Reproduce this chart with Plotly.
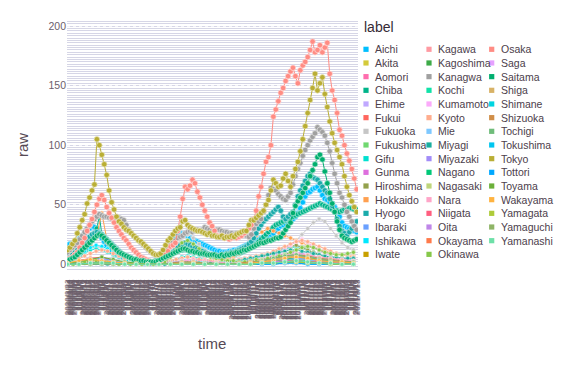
import pandas as pd
import plotly.graph_objects as go

# ---------------- data ----------------
dates = pd.date_range("2020-03-23", "2021-03-13", freq="D")
time_labels = [f"{d.year}/{d.month}/{d.day}" for d in dates]

prefectures = ["Aichi", "Akita", "Aomori", "Chiba", "Ehime", "Fukui", "Fukuoka", "Fukushima",
               "Gifu", "Gunma", "Hiroshima", "Hokkaido", "Hyogo", "Ibaraki", "Ishikawa", "Iwate",
               "Kagawa", "Kagoshima", "Kanagwa", "Kochi", "Kumamoto", "Kyoto", "Mie", "Miyagi",
               "Miyazaki", "Nagano", "Nagasaki", "Nara", "Niigata", "Oita", "Okayama", "Okinawa",
               "Osaka", "Saga", "Saitama", "Shiga", "Shimane", "Shizuoka", "Tochigi", "Tokushima",
               "Tokyo", "Tottori", "Toyama", "Wakayama", "Yamagata", "Yamaguchi", "Yamanashi"]

colors = ["#00BFFF", "#D4CA3A", "#FF6DAE", "#00B48A", "#C0A8FF", "#FF665E", "#C6C6C6", "#70D870",
          "#00E0D0", "#DE6FDE", "#93A14C", "#FFA050", "#1AABAB", "#6AA0FF", "#00E8FF", "#C8A000",
          "#FF9AA2", "#3DAA47", "#A0A0A0", "#10E2A8", "#FBAAFA", "#FFAD8E", "#7EC8FF", "#1AAE9E",
          "#A28CF8", "#00C878", "#BED57B", "#FFA5C8", "#FF5E7F", "#BF86E8", "#FF7A4B", "#86C84A",
          "#FF8C84", "#E6A0FF", "#00AE6F", "#D8B266", "#00D4E0", "#D08E48", "#6FBC7A", "#00C6F0",
          "#B9AE35", "#00A8FF", "#6BB03A", "#FFB340", "#AECB3A", "#8EB466", "#6EE0A8"]

# values every 3 days (day 0, 3, 6, ...)
tokyo = [12, 14, 17, 20, 26, 31, 37, 42, 51, 56,
         62, 67, 105, 100, 92, 84, 75, 62, 52, 46,
         40, 36, 34, 31, 29, 28, 26, 24, 22, 20,
         19, 17, 15, 13, 11, 9, 8, 8, 9, 12,
         16, 20, 22, 25, 28, 30, 31, 36, 37, 33,
         31, 30, 29, 28, 28, 27, 26, 25, 26, 24,
         24, 23, 23, 24, 22, 23, 23, 24, 23, 25,
         26, 27, 28, 28, 33, 37, 37, 39, 41, 43,
         45, 50, 54, 62, 71, 68, 65, 66, 72, 76,
         70, 65, 74, 80, 86, 95, 105, 116, 127, 138,
         148, 160, 146, 152, 157, 143, 132, 120, 110, 102,
         96, 90, 84, 74, 65, 58, 53, 48, 44]
osaka = [4, 5, 6, 8, 10, 14, 18, 22, 28, 33,
         38, 44, 50, 55, 58, 54, 48, 43, 39, 35,
         31, 28, 25, 22, 20, 17, 14, 12, 10, 8,
         6, 5, 4, 3, 2, 2, 2, 2, 3, 5,
         8, 11, 15, 16, 18, 28, 40, 55, 65, 63,
         66, 71, 68, 61, 56, 50, 45, 40, 35, 32,
         28, 24, 23, 24, 22, 23, 21, 22, 23, 22,
         23, 24, 26, 28, 30, 33, 38, 45, 57, 65,
         76, 86, 90, 100, 124, 130, 137, 144, 148, 154,
         158, 162, 165, 158, 152, 163, 167, 170, 174, 180,
         187, 178, 180, 184, 178, 182, 186, 160, 146, 138,
         127, 113, 108, 100, 93, 87, 80, 72, 63]
kanagawa = [10, 12, 14, 16, 18, 21, 24, 27, 30, 33,
            36, 38, 40, 42, 41, 40, 40, 39, 38, 38,
            40, 39, 38, 37, 33, 29, 26, 24, 22, 20,
            18, 16, 14, 12, 10, 9, 8, 8, 9, 10,
            12, 14, 16, 18, 20, 22, 23, 24, 26, 27,
            28, 27, 28, 29, 28, 29, 31, 30, 29, 28,
            29, 29, 29, 28, 27, 27, 26, 26, 25, 26,
            24, 25, 26, 24, 23, 25, 30, 34, 36, 38,
            44, 50, 58, 64, 63, 62, 59, 57, 55, 54,
            57, 60, 67, 74, 80, 85, 91, 96, 100, 104,
            107, 110, 115, 113, 111, 108, 102, 95, 85, 76,
            68, 60, 56, 50, 44, 40, 36, 32, 29]
saitama = [3, 4, 5, 6, 8, 10, 12, 14, 16, 18,
           20, 22, 24, 25, 24, 22, 20, 18, 16, 14,
           12, 10, 9, 8, 7, 6, 5, 4, 4, 3,
           3, 3, 2, 2, 2, 2, 2, 3, 4, 5,
           6, 7, 8, 9, 10, 11, 12, 13, 13, 12,
           11, 11, 10, 10, 9, 9, 9, 8, 8, 8,
           8, 7, 7, 8, 7, 8, 8, 9, 9, 10,
           10, 11, 12, 12, 13, 14, 15, 16, 17, 18,
           18, 19, 20, 20, 21, 22, 22, 23, 26, 29,
           32, 35, 43, 49, 53, 56, 60, 64, 68, 74,
           79, 84, 90, 92, 88, 78, 68, 60, 51, 44,
           36, 29, 24, 22, 21, 20, 19, 20, 21]
hyogo = [5, 6, 8, 10, 12, 14, 17, 19, 21, 23,
         25, 26, 27, 26, 25, 23, 21, 19, 17, 15,
         13, 11, 9, 8, 7, 6, 5, 4, 3, 3,
         2, 2, 2, 1, 1, 1, 1, 2, 3, 4,
         5, 6, 8, 10, 12, 14, 16, 17, 18, 17,
         16, 15, 14, 13, 12, 11, 10, 9, 8, 8,
         7, 7, 7, 8, 8, 9, 9, 10, 10, 11,
         12, 13, 14, 15, 17, 19, 22, 26, 30, 33,
         36, 38, 40, 42, 44, 46, 48, 45, 40, 38,
         40, 42, 44, 50, 57, 62, 66, 70, 74, 76,
         73, 72, 71, 68, 65, 62, 60, 55, 49, 44,
         38, 32, 28, 26, 24, 27, 30, 33, 36]
aichi = [16, 17, 17, 18, 20, 22, 24, 26, 28, 30,
         32, 31, 28, 25, 22, 19, 16, 14, 12, 10,
         8, 7, 6, 5, 4, 4, 3, 3, 2, 2,
         2, 1, 1, 1, 1, 2, 2, 3, 5, 8,
         11, 14, 17, 20, 22, 24, 26, 25, 26, 24,
         22, 21, 20, 19, 18, 17, 16, 15, 14, 13,
         12, 11, 11, 10, 10, 10, 11, 11, 12, 12,
         13, 14, 15, 16, 17, 18, 19, 20, 21, 22,
         22, 23, 24, 25, 26, 28, 30, 32, 33, 34,
         35, 36, 38, 40, 43, 47, 52, 57, 60, 61,
         63, 64, 65, 62, 58, 55, 54, 52, 51, 48,
         44, 40, 35, 32, 31, 30, 29, 28, 27]
chiba = [2, 3, 4, 5, 6, 8, 10, 12, 14, 17,
         20, 24, 30, 41, 25, 22, 19, 17, 15, 13,
         11, 10, 9, 8, 7, 6, 5, 4, 4, 3,
         3, 2, 2, 2, 2, 2, 3, 3, 4, 5,
         6, 7, 8, 9, 10, 11, 12, 12, 13, 12,
         11, 11, 10, 10, 9, 9, 8, 8, 8, 7,
         7, 7, 6, 6, 7, 7, 7, 8, 8, 9,
         9, 10, 11, 12, 13, 14, 15, 17, 19, 21,
         23, 25, 27, 29, 31, 33, 34, 35, 36, 37,
         38, 39, 40, 41, 42, 43, 44, 45, 46, 47,
         48, 49, 50, 51, 50, 49, 48, 47, 46, 45,
         45, 44, 45, 46, 46, 47, 47, 46, 46]

# values every 7 days
hokkaido = [5, 7, 9, 12, 16, 22, 43, 18, 12, 9, 7, 5, 4, 3, 2, 2, 2, 3, 3, 4, 4, 3, 3, 3, 3, 3,
            4, 4, 5, 6, 9, 14, 20, 24, 27, 30, 28, 26, 24, 22, 20, 18, 16, 14, 12, 11, 10, 9, 8, 7, 7]
fukuoka = [2, 4, 7, 10, 13, 15, 14, 11, 8, 5, 3, 2, 1, 1, 1, 1, 2, 5, 10, 16, 22, 25, 22, 17, 12, 9,
           7, 5, 4, 4, 4, 5, 6, 7, 8, 9, 10, 12, 14, 17, 20, 25, 30, 35, 38, 36, 30, 24, 18, 14, 12]
kyoto = [2, 3, 5, 7, 9, 11, 12, 11, 9, 7, 5, 4, 3, 2, 1, 1, 1, 2, 3, 4, 5, 6, 5, 4, 4, 3,
         3, 3, 3, 4, 4, 5, 6, 7, 8, 9, 11, 13, 15, 17, 19, 20, 19, 17, 15, 13, 11, 9, 8, 7, 6]
okinawa = [0, 0, 1, 2, 3, 3, 2, 1, 1, 0, 0, 0, 0, 0, 0, 0, 0, 2, 6, 12, 18, 20, 17, 13, 9, 6,
           5, 4, 3, 3, 2, 2, 3, 4, 4, 5, 6, 7, 8, 10, 12, 14, 15, 14, 12, 10, 9, 8, 8, 9, 10]
kumamoto = [0, 0, 1, 1, 1, 1, 0, 0, 0, 0, 0, 0, 0, 0, 0, 0, 0, 1, 2, 3, 4, 3, 2, 2, 1, 1,
            1, 1, 1, 1, 2, 2, 3, 4, 5, 6, 8, 10, 13, 16, 19, 21, 18, 15, 12, 9, 7, 5, 4, 3, 3]
ishikawa = [3, 5, 8, 11, 14, 16, 15, 13, 10, 8, 6, 4, 3, 2, 1, 1, 1, 1, 2, 3, 4, 4, 3, 3, 2, 2,
            2, 1, 1, 1, 1, 1, 2, 2, 3, 3, 4, 4, 5, 6, 6, 7, 6, 5, 4, 3, 3, 2, 2, 2, 2]
gifu = [2, 4, 7, 10, 12, 13, 12, 10, 8, 6, 4, 3, 2, 1, 1, 0, 0, 1, 2, 4, 6, 7, 6, 5, 4, 3,
        2, 2, 2, 2, 2, 3, 4, 5, 6, 7, 9, 11, 13, 14, 15, 14, 12, 10, 8, 7, 6, 5, 4, 4, 3]
hiroshima = [0, 1, 1, 2, 3, 3, 2, 2, 1, 1, 0, 0, 0, 0, 0, 0, 0, 0, 1, 2, 3, 3, 2, 2, 1, 1,
             1, 1, 1, 1, 1, 2, 3, 4, 6, 8, 10, 12, 14, 15, 16, 14, 12, 10, 8, 6, 5, 4, 3, 3, 2]
miyagi = [0, 0, 1, 1, 1, 1, 0, 0, 0, 0, 0, 0, 0, 0, 0, 0, 0, 0, 1, 1, 1, 1, 1, 1, 1, 1,
          1, 1, 2, 2, 3, 4, 5, 6, 7, 8, 9, 10, 11, 12, 12, 11, 10, 9, 8, 7, 6, 6, 5, 5, 5]

# values every 14 days
akita = [0, 0, 1, 1, 0, 0, 0, 0, 0, 0, 0, 0, 0, 0, 0, 0, 0, 1, 1, 1, 2, 2, 1, 1, 0, 0]
aomori = [0, 0, 0, 0, 0, 0, 0, 0, 0, 0, 0, 0, 0, 0, 0, 0, 0, 1, 2, 2, 1, 1, 1, 0, 0, 0]
ehime = [0, 0, 1, 1, 0, 0, 0, 0, 0, 0, 0, 0, 0, 0, 0, 0, 1, 2, 3, 4, 3, 2, 2, 1, 1, 1]
fukui = [1, 3, 5, 6, 3, 1, 0, 0, 0, 0, 0, 0, 0, 0, 0, 0, 0, 0, 1, 1, 2, 2, 1, 1, 0, 0]
fukushima = [0, 0, 1, 2, 1, 0, 0, 0, 0, 0, 1, 1, 0, 0, 0, 0, 1, 2, 3, 4, 5, 4, 3, 2, 2, 2]
gunma = [0, 1, 3, 4, 2, 1, 0, 0, 0, 0, 1, 1, 1, 1, 1, 2, 3, 5, 7, 9, 10, 8, 6, 4, 3, 2]
ibaraki = [1, 2, 4, 5, 3, 1, 0, 0, 0, 1, 2, 2, 1, 1, 1, 2, 3, 4, 6, 8, 9, 7, 5, 4, 3, 3]
iwate = [0, 0, 0, 0, 0, 0, 0, 0, 0, 0, 0, 0, 0, 0, 0, 0, 1, 2, 2, 3, 3, 2, 2, 1, 1, 1]
kagawa = [0, 0, 1, 1, 0, 0, 0, 0, 0, 0, 0, 0, 0, 0, 0, 0, 0, 1, 1, 2, 3, 2, 1, 1, 0, 0]
kagoshima = [0, 0, 0, 0, 0, 0, 0, 0, 1, 3, 2, 1, 1, 0, 0, 0, 1, 2, 3, 4, 3, 2, 2, 1, 1, 1]
kochi = [0, 1, 2, 3, 2, 1, 0, 0, 0, 0, 0, 0, 0, 0, 0, 0, 0, 1, 2, 3, 4, 3, 2, 1, 1, 1]
mie = [0, 0, 1, 2, 1, 0, 0, 0, 0, 1, 2, 2, 1, 1, 0, 0, 1, 2, 3, 4, 5, 4, 3, 2, 1, 1]
miyazaki = [0, 0, 0, 1, 0, 0, 0, 0, 0, 1, 2, 1, 1, 0, 0, 0, 1, 1, 2, 4, 5, 4, 3, 2, 1, 1]
nagano = [0, 0, 1, 2, 1, 0, 0, 0, 0, 0, 0, 0, 0, 0, 0, 0, 0, 1, 2, 4, 6, 5, 4, 3, 2, 2]
nagasaki = [0, 0, 0, 1, 1, 0, 0, 0, 0, 0, 1, 1, 0, 0, 0, 0, 0, 1, 2, 3, 3, 2, 2, 1, 1, 1]
nara = [0, 1, 2, 3, 2, 1, 0, 0, 0, 1, 3, 4, 3, 2, 1, 1, 2, 4, 6, 8, 9, 8, 6, 5, 4, 3]
niigata = [0, 0, 1, 1, 1, 0, 0, 0, 0, 0, 0, 0, 0, 0, 0, 0, 0, 1, 2, 3, 3, 2, 2, 1, 1, 1]
oita = [0, 0, 1, 1, 0, 0, 0, 0, 0, 0, 1, 1, 0, 0, 0, 0, 0, 1, 2, 3, 2, 2, 1, 1, 0, 0]
okayama = [0, 0, 1, 1, 0, 0, 0, 0, 0, 0, 0, 0, 0, 0, 0, 0, 1, 2, 4, 6, 7, 5, 4, 3, 2, 1]
saga = [0, 0, 0, 1, 0, 0, 0, 0, 0, 0, 1, 1, 0, 0, 0, 0, 0, 1, 1, 2, 2, 1, 1, 0, 0, 0]
shiga = [0, 0, 1, 2, 1, 0, 0, 0, 0, 0, 1, 2, 1, 1, 0, 0, 1, 2, 4, 6, 7, 6, 4, 3, 2, 2]
shimane = [0, 0, 0, 0, 0, 0, 0, 0, 0, 1, 2, 1, 0, 0, 0, 0, 0, 0, 0, 1, 1, 0, 0, 0, 0, 0]
shizuoka = [0, 0, 1, 2, 1, 0, 0, 0, 0, 1, 2, 2, 1, 0, 0, 1, 2, 3, 5, 7, 8, 7, 5, 4, 3, 2]
tochigi = [0, 0, 1, 2, 1, 0, 0, 0, 0, 0, 1, 1, 1, 0, 0, 0, 1, 3, 5, 7, 8, 6, 4, 3, 2, 2]
tokushima = [0, 0, 0, 0, 0, 0, 0, 0, 0, 0, 0, 0, 0, 0, 0, 0, 0, 1, 1, 2, 2, 1, 1, 0, 0, 0]
tottori = [0, 0, 0, 0, 0, 0, 0, 0, 0, 0, 0, 0, 0, 0, 0, 0, 0, 0, 0, 1, 1, 0, 0, 0, 0, 0]
toyama = [1, 2, 4, 6, 4, 2, 1, 0, 0, 0, 0, 0, 0, 0, 0, 0, 0, 1, 1, 2, 2, 2, 1, 1, 0, 0]
wakayama = [1, 3, 4, 3, 2, 1, 0, 0, 0, 0, 1, 1, 0, 0, 0, 0, 1, 2, 3, 5, 6, 5, 3, 2, 2, 1]
yamagata = [0, 0, 0, 1, 0, 0, 0, 0, 0, 0, 0, 0, 0, 0, 0, 0, 0, 1, 1, 2, 2, 1, 1, 0, 0, 0]
yamaguchi = [0, 0, 0, 0, 0, 0, 0, 0, 0, 0, 0, 0, 0, 0, 0, 0, 0, 1, 1, 2, 3, 2, 1, 1, 0, 0]
yamanashi = [0, 0, 1, 1, 1, 0, 0, 0, 0, 0, 0, 0, 0, 0, 0, 0, 0, 1, 1, 2, 3, 2, 1, 1, 0, 0]

series = {
    "Aichi": (3, aichi), "Akita": (14, akita), "Aomori": (14, aomori), "Chiba": (3, chiba),
    "Ehime": (14, ehime), "Fukui": (14, fukui), "Fukuoka": (7, fukuoka), "Fukushima": (14, fukushima),
    "Gifu": (7, gifu), "Gunma": (14, gunma), "Hiroshima": (7, hiroshima), "Hokkaido": (7, hokkaido),
    "Hyogo": (3, hyogo), "Ibaraki": (14, ibaraki), "Ishikawa": (7, ishikawa), "Iwate": (14, iwate),
    "Kagawa": (14, kagawa), "Kagoshima": (14, kagoshima), "Kanagwa": (3, kanagawa), "Kochi": (14, kochi),
    "Kumamoto": (7, kumamoto), "Kyoto": (7, kyoto), "Mie": (14, mie), "Miyagi": (7, miyagi),
    "Miyazaki": (14, miyazaki), "Nagano": (14, nagano), "Nagasaki": (14, nagasaki), "Nara": (14, nara),
    "Niigata": (14, niigata), "Oita": (14, oita), "Okayama": (14, okayama), "Okinawa": (7, okinawa),
    "Osaka": (3, osaka), "Saga": (14, saga), "Saitama": (3, saitama), "Shiga": (14, shiga),
    "Shimane": (14, shimane), "Shizuoka": (14, shizuoka), "Tochigi": (14, tochigi),
    "Tokushima": (14, tokushima), "Tokyo": (3, tokyo), "Tottori": (14, tottori), "Toyama": (14, toyama),
    "Wakayama": (14, wakayama), "Yamagata": (14, yamagata), "Yamaguchi": (14, yamaguchi),
    "Yamanashi": (14, yamanashi),
}

# ---------------- figure ----------------
# page body has an 8px margin: work in window pixels, convert to figure pixels
OFF = 8
W, H = 567 - OFF, 378 - OFF
PL, PR, PT, PB = 67, 358, 19, 272          # plot area in window pixels


def px2x(px):
    return (px - PL) / (PR - PL)


def py2y(py):
    return (PB - py) / (PB - PT)


def lighten(hexc, f=0.7):
    r, g, b = int(hexc[1:3], 16), int(hexc[3:5], 16), int(hexc[5:7], 16)
    r, g, b = [int(c + (255 - c) * f) for c in (r, g, b)]
    return f"rgb({r},{g},{b})"


fig = go.Figure()
n = len(time_labels)
for name, col in zip(prefectures, colors):
    step, vals = series[name]
    xs = [time_labels[min(i * step, n - 1)] for i in range(len(vals))]
    msize = 5.5 if step == 3 else 4
    fig.add_trace(go.Scatter(
        x=xs, y=vals, mode="lines+markers", name=name, showlegend=False,
        line=dict(color=col, width=1),
        marker=dict(color=col, size=msize, line=dict(color=lighten(col), width=0.7)),
    ))

FONT = "Liberation Sans"
shapes = []
annotations = []

# manual legend (3 columns, column-major like the reference)
annotations.append(dict(text="label", x=px2x(362), y=py2y(27), xref="paper", yref="paper",
                        xanchor="left", yanchor="middle", showarrow=False,
                        font=dict(family=FONT, size=14, color="#362A35")))
col_sw = [366, 429, 491.7]
col_tx = [373, 436, 498.5]
row0, dy = 49.3, 13.67
for i, (name, col) in enumerate(zip(prefectures, colors)):
    c, r = divmod(i, 16)
    yc = row0 + r * dy
    shapes.append(dict(type="rect", xref="paper", yref="paper",
                       x0=px2x(col_sw[c] - 2.6), x1=px2x(col_sw[c] + 2.6),
                       y0=py2y(yc + 2.6), y1=py2y(yc - 2.6),
                       fillcolor=col, line=dict(width=0)))
    annotations.append(dict(text=name, x=px2x(col_tx[c]), y=py2y(yc), xref="paper", yref="paper",
                            xanchor="left", yanchor="middle", showarrow=False,
                            font=dict(family=FONT, size=10.5, color="#4C404B")))

annotations.append(dict(text="raw", x=px2x(22), y=py2y(145), xref="paper", yref="paper",
                        textangle=-90, showarrow=False, xanchor="center", yanchor="middle",
                        font=dict(family=FONT, size=15, color="#564A55")))
annotations.append(dict(text="time", x=px2x(212), y=py2y(343), xref="paper", yref="paper",
                        showarrow=False, xanchor="center", yanchor="middle",
                        font=dict(family=FONT, size=15, color="#564A55")))

fig.update_layout(
    width=W, height=H,
    margin=dict(l=PL - OFF, r=W - (PR - OFF), t=PT - OFF, b=H - (PB - OFF), autoexpand=False),
    paper_bgcolor="white", plot_bgcolor="white",
    showlegend=False,
    shapes=shapes, annotations=annotations,
    font=dict(family=FONT),
    xaxis=dict(
        type="category", categoryorder="array", categoryarray=time_labels,
        range=[-0.6, n - 0.4],
        tickmode="array", tickvals=time_labels, ticktext=time_labels,
        tickangle=-90, tickfont=dict(family=FONT, size=8, color="#6C606B"),
        ticklabelstandoff=5,
        showgrid=False, zeroline=False, showline=False, ticks="", automargin=False,
    ),
    yaxis=dict(
        range=[-6.5, 206],
        tickmode="array", tickvals=[0, 50, 100, 150, 200],
        tickfont=dict(family=FONT, size=10.5, color="#6C606B"),
        showgrid=True, gridcolor="#F2F2F8", gridwidth=1, griddash="dot",
        minor=dict(tick0=0, dtick=2, showgrid=True, gridcolor="#D6D6E6", gridwidth=1.2,
                   griddash="solid"),
        zeroline=False, showline=False, ticks="", automargin=False,
    ),
)

fig.write_html("out.html")
